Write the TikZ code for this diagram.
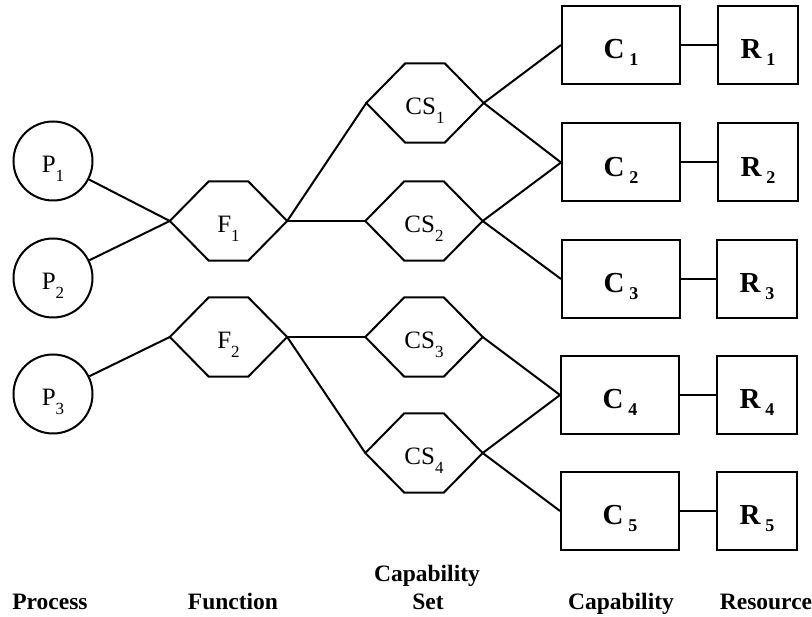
\documentclass[tikz,border=0pt]{standalone}
\usepackage{fontspec}
\setmainfont{Liberation Serif}
\newcommand{\smlab}[2]{\raisebox{0pt}[23pt][0pt]{\fontsize{25}{27}\selectfont #1\raisebox{-9pt}[0pt][0pt]{\fontsize{17}{17}\selectfont #2}}}
\newcommand{\bglab}[2]{\raisebox{0pt}[28pt][0pt]{\fontsize{29}{31}\selectfont\bfseries #1\hspace{5pt}\raisebox{-7pt}[0pt][0pt]{\fontsize{18}{18}\selectfont #2}}}
\tikzset{
  proc/.style={circle, draw, line width=2pt, minimum size=79pt, inner sep=0pt},
  hexa/.style={rectangle, minimum width=117pt, minimum height=79pt, inner sep=0pt},
  hexline/.style={line width=2pt, line join=miter},
  capbox/.style={rectangle, draw, line width=2pt, minimum width=118pt, minimum height=78pt, inner sep=0pt},
  resbox/.style={rectangle, draw, line width=2pt, minimum width=80pt, minimum height=78pt, inner sep=0pt},
  conn/.style={line width=2pt},
  colhead/.style={font=\fontsize{23.5}{26}\selectfont\bfseries, anchor=base, inner sep=0pt}
}
\begin{document}
\begin{tikzpicture}[x=1pt, y=-1pt]
\useasboundingbox (0,0) rectangle (812,617);
% processes
\node[proc] (P1) at (53,161) {\smlab{P}{1}};
\node[proc] (P2) at (53,278) {\smlab{P}{2}};
\node[proc] (P3) at (53,394) {\smlab{P}{3}};
% functions
\node[hexa] (F1) at (228.5,221) {\smlab{F}{1}};
\node[hexa] (F2) at (228.5,337) {\smlab{F}{2}};
% capability sets
\node[hexa] (CS1) at (425,103) {\smlab{CS}{1}};
\node[hexa] (CS2) at (424,221) {\smlab{CS}{2}};
\node[hexa] (CS3) at (424,337) {\smlab{CS}{3}};
\node[hexa] (CS4) at (424,453) {\smlab{CS}{4}};
\foreach \n in {F1,F2,CS1,CS2,CS3,CS4}{
  \draw[hexline] (\n.west) -- ([xshift=39pt]\n.north west) -- ([xshift=-39pt]\n.north east)
        -- (\n.east) -- ([xshift=-39pt]\n.south east) -- ([xshift=39pt]\n.south west) -- cycle;
}
% capabilities and resources
\node[capbox] (C1) at (621,45)  {\bglab{C}{1}};
\node[capbox] (C2) at (621,162.5) {\bglab{C}{2}};
\node[capbox] (C3) at (621,279) {\bglab{C}{3}};
\node[capbox] (C4) at (620,395) {\bglab{C}{4}};
\node[capbox] (C5) at (620,511) {\bglab{C}{5}};
\node[resbox] (R1) at (758,45)  {\bglab{R}{1}};
\node[resbox] (R2) at (758,162.5) {\bglab{R}{2}};
\node[resbox] (R3) at (757,279) {\bglab{R}{3}};
\node[resbox] (R4) at (757,395) {\bglab{R}{4}};
\node[resbox] (R5) at (757,511) {\bglab{R}{5}};
% connectors
\draw[conn] (P1) -- (F1.west);
\draw[conn] (P2) -- (F1.west);
\draw[conn] (P3) -- (F2.west);
\draw[conn] (F1.east) -- (CS1.west);
\draw[conn] (F1.east) -- (CS2.west);
\draw[conn] (F2.east) -- (CS3.west);
\draw[conn] (F2.east) -- (CS4.west);
\draw[conn] (CS1.east) -- (C1.west);
\draw[conn] (CS1.east) -- (C2.west);
\draw[conn] (CS2.east) -- (C2.west);
\draw[conn] (CS2.east) -- (C3.west);
\draw[conn] (CS3.east) -- (C4.west);
\draw[conn] (CS4.east) -- (C4.west);
\draw[conn] (CS4.east) -- (C5.west);
\foreach \i in {1,...,5}{ \draw[conn] (C\i.east) -- (R\i.west); }
% column headings
\node[colhead] (hP) at (50,609) {Process};
\node[colhead] (hF) at (233,609) {Function};
\node[colhead] (hCS1) at (427,582) {Capability};
\node[colhead] (hCS2) at (428,609) {Set};
\node[colhead] (hC) at (621,609) {Capability};
\node[colhead] (hR) at (766,609) {Resource};
\end{tikzpicture}
\end{document}
